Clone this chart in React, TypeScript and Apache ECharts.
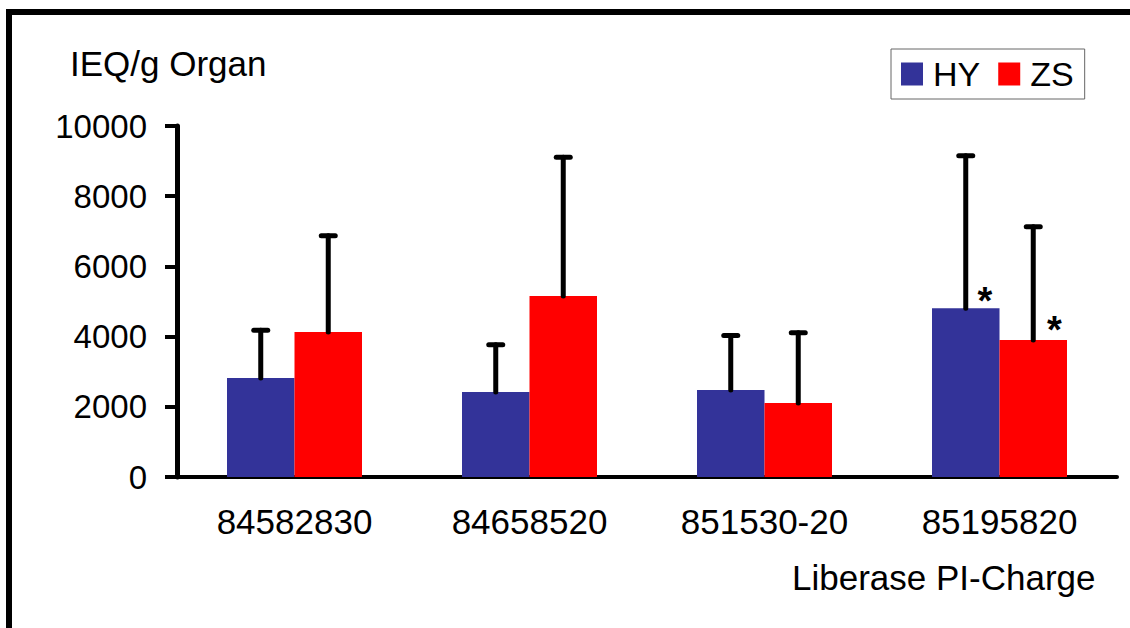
import React, { useEffect, useRef } from "react";
import * as echarts from "echarts";

const categories = ["84582830", "84658520", "851530-20", "85195820"];
const hyValues = [2820, 2420, 2480, 4810];
const zsValues = [4130, 5160, 2110, 3900];
const hyErrors = [1360, 1350, 1550, 4340];
const zsErrors = [2745, 3950, 2000, 3230];
const hySignificant = [false, false, false, true];
const zsSignificant = [false, false, false, true];
const yTicks = { min: 0, max: 10000, interval: 2000 };

const FONT = "Liberation Sans, Arial, Helvetica, sans-serif";
const BLUE = "#333399";
const RED = "#FF0000";
const BAR_W = 67.5;

export default function App() {
  const ref = useRef<HTMLDivElement>(null);

  useEffect(() => {
    if (!ref.current) return;
    const chart = echarts.init(ref.current, null, { renderer: "svg" });

    const errorSeries = (name: string, values: number[], errors: number[], side: number) => ({
      type: "custom",
      name,
      z: 5,
      silent: true,
      data: values.map((v, i) => [i, v, v + errors[i]]),
      renderItem: (params: any, api: any) => {
        const lo = api.coord([api.value(0), api.value(1)]);
        const hi = api.coord([api.value(0), api.value(2)]);
        const x = lo[0] + side * BAR_W / 2;
        const capHalf = 7;
        const style = { stroke: "#000", lineWidth: 5, lineCap: "round" };
        return {
          type: "group",
          children: [
            { type: "line", shape: { x1: x, y1: lo[1], x2: x, y2: hi[1] }, style },
            { type: "line", shape: { x1: x - capHalf, y1: hi[1], x2: x + capHalf, y2: hi[1] }, style },
          ],
        };
      },
    });

    const starLabel = (offset: number[]) => ({
      show: true,
      formatter: "*",
      position: offset,
      align: "center",
      verticalAlign: "middle",
      fontSize: 38,
      fontWeight: "bold",
      fontFamily: FONT,
      color: "#000",
    });

    chart.setOption({
      animation: false,
      backgroundColor: "#fff",
      textStyle: { fontFamily: FONT, color: "#000" },
      grid: { left: 177, right: 13, top: 126, bottom: 151, containLabel: false },
      legend: {
        data: ["HY", "ZS"],
        left: 891,
        top: 49,
        orient: "horizontal",
        icon: "rect",
        itemWidth: 22,
        itemHeight: 23,
        itemGap: 18,
        borderColor: "#666",
        borderWidth: 1,
        padding: [8, 11, 8, 10],
        textStyle: { fontSize: 34, color: "#000", fontFamily: FONT, padding: [0, 0, 0, 5] },
        selectedMode: false,
      },
      xAxis: {
        type: "category",
        data: categories,
        axisLine: { show: true, lineStyle: { color: "#000", width: 4 } },
        axisTick: { show: false },
        axisLabel: { fontSize: 35, color: "#000", fontFamily: FONT, margin: 27 },
        splitLine: { show: false },
      },
      yAxis: {
        type: "value",
        min: yTicks.min,
        max: yTicks.max,
        interval: yTicks.interval,
        axisLine: { show: true, lineStyle: { color: "#000", width: 5 } },
        axisTick: { show: true, length: 12, lineStyle: { color: "#000", width: 4 } },
        axisLabel: { fontSize: 33, color: "#000", fontFamily: FONT, margin: 30, formatter: (v: number) => String(v) },
        splitLine: { show: false },
      },
      graphic: [
        {
          type: "polyline",
          shape: { points: [[9, 640], [9, 12], [1140, 12]] },
          style: { stroke: "#000", lineWidth: 6, fill: "none" },
          z: 100,
        },
        {
          type: "text",
          x: 70,
          y: 63,
          style: { text: "IEQ/g Organ", font: `35px ${FONT}`, fill: "#000", textAlign: "left", textVerticalAlign: "middle" },
        },
        {
          type: "text",
          x: 792,
          y: 577,
          style: { text: "Liberase PI-Charge", font: `35px ${FONT}`, fill: "#000", textAlign: "left", textVerticalAlign: "middle" },
        },
      ],
      series: [
        {
          name: "HY",
          type: "bar",
          barWidth: BAR_W,
          barGap: "0%",
          itemStyle: { color: BLUE },
          data: hyValues.map((v, i) => ({
            value: v,
            label: hySignificant[i] ? starLabel([53, -7]) : { show: false },
          })),
        },
        {
          name: "ZS",
          type: "bar",
          barWidth: BAR_W,
          barGap: "0%",
          itemStyle: { color: RED },
          data: zsValues.map((v, i) => ({
            value: v,
            label: zsSignificant[i] ? starLabel([55, -10]) : { show: false },
          })),
        },
        errorSeries("HY-err", hyValues, hyErrors, -1),
        errorSeries("ZS-err", zsValues, zsErrors, 1),
      ],
    });

    return () => chart.dispose();
  }, []);

  return (
    <div
      ref={ref}
      style={{ position: "fixed", left: 0, top: 0, width: 1130, height: 628, background: "#fff" }}
    />
  );
}
